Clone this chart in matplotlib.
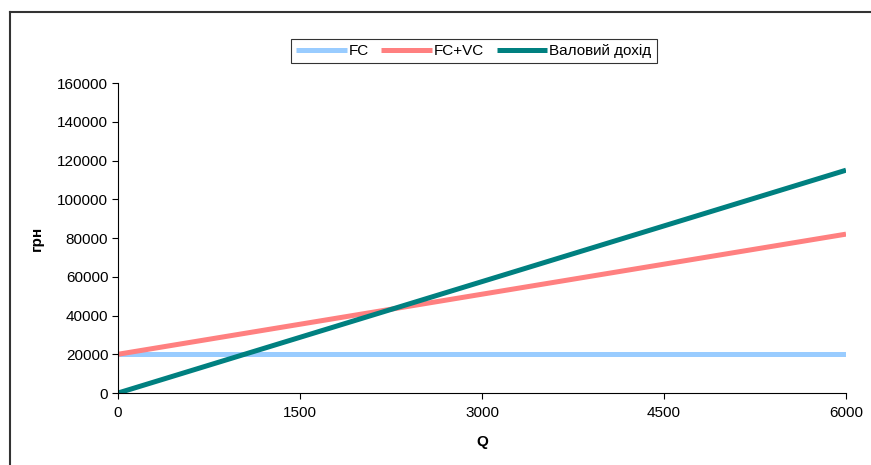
import matplotlib
matplotlib.use("Agg")
import matplotlib.pyplot as plt
from matplotlib.lines import Line2D

plt.rcParams['font.family'] = ['Liberation Sans', 'DejaVu Sans']

# values
q = [0, 6000]
fc = [20000, 20000]
fc_vc = [20000, 82000]
revenue = [0, 115000]

labels = ["FC", "FC+VC", "Валовий дохід"]
colors = ["#99CCFF", "#FF8080", "#008080"]

fig = plt.figure(figsize=(8.71, 4.65), dpi=100)
ax = fig.add_axes([0.1355, 0.1548, 0.8358, 0.6667])

for y, lab, c in zip([fc, fc_vc, revenue], labels, colors):
    ax.plot(q, y, color=c, linewidth=3.6, label=lab, solid_capstyle='butt')

ax.set_xlim(0, 6000)
ax.set_ylim(0, 160000)
ax.set_xticks([0, 1500, 3000, 4500, 6000])
ax.set_yticks(range(0, 160001, 20000))
ax.tick_params(axis='both', labelsize=11, direction='out', length=4, width=0.8)
ax.tick_params(axis='x', pad=5)
ax.tick_params(axis='y', pad=3)
ax.spines['top'].set_visible(False)
ax.spines['right'].set_visible(False)
ax.set_xlabel("Q", fontsize=11, fontweight='bold', labelpad=11)
ax.set_ylabel("грн", fontsize=11, fontweight='bold', labelpad=10)

leg = fig.legend(loc='center', bbox_to_anchor=(0.544, 0.890), ncol=3,
                 fontsize=11, frameon=True, fancybox=False, edgecolor='black',
                 handlelength=3.3, handletextpad=0.15, columnspacing=0.8,
                 borderpad=0.35, borderaxespad=0)
leg.get_frame().set_linewidth(0.8)

# outer chart-area frame (only left and top visible)
fig.add_artist(Line2D([0.0115, 0.0115], [0.0, 0.974], color='#333333', lw=1.5,
                      transform=fig.transFigure))
fig.add_artist(Line2D([0.0115, 1.0], [0.974, 0.974], color='#333333', lw=1.5,
                      transform=fig.transFigure))

fig.savefig("out.png", dpi=100)
